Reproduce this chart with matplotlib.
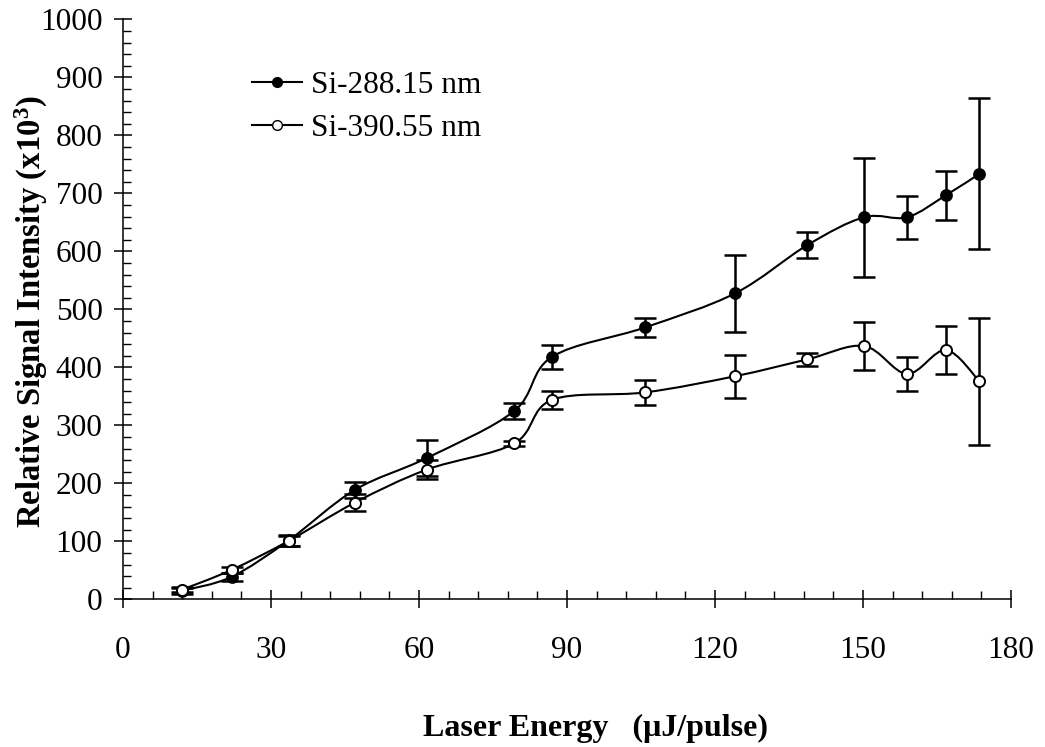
import numpy as np
import matplotlib
matplotlib.use("Agg")
import matplotlib.pyplot as plt
from matplotlib.path import Path
from matplotlib.patches import PathPatch
from matplotlib.lines import Line2D
from matplotlib.ticker import MultipleLocator

plt.rcParams['font.family'] = ['Liberation Serif', 'DejaVu Serif']
plt.rcParams['mathtext.fontset'] = 'custom'
plt.rcParams['mathtext.rm'] = 'Liberation Serif'
plt.rcParams['mathtext.bf'] = 'Liberation Serif:bold'
plt.rcParams['mathtext.default'] = 'bf'

# data
energy = [12, 22, 33.6, 47, 61.6, 79.3, 86.9, 105.8, 124.1, 138.7, 150.2, 158.9, 166.8, 173.6]
si288 = [15, 39, 102, 189, 244, 325, 418, 469, 528, 611, 659, 659, 697, 734]
si288_err = [5, 7, 10, 14, 31, 13, 20, 16, 66, 23, 103, 37, 42, 130]
si390 = [17, 51, 101, 167, 224, 269, 344, 357, 385, 414, 437, 389, 430, 376]
si390_err = [4, 5, 8, 14, 16, 4, 15, 22, 37, 11, 42, 29, 42, 110]
labels = ['Si-288.15 nm', 'Si-390.55 nm']


def smooth_path(x, y):
    # Catmull-Rom style bezier through the points (like a spreadsheet "smoothed line")
    pts = np.column_stack([x, y]).astype(float)
    n = len(pts)
    verts = [pts[0]]
    codes = [Path.MOVETO]
    for i in range(n - 1):
        p0 = pts[i - 1] if i > 0 else pts[i]
        p1 = pts[i]
        p2 = pts[i + 1]
        p3 = pts[i + 2] if i + 2 < n else pts[i + 1]
        verts += [p1 + (p2 - p0) / 6, p2 - (p3 - p1) / 6, p2]
        codes += [Path.CURVE4] * 3
    return Path(verts, codes)


fig = plt.figure(figsize=(10.45, 7.47), dpi=100)
ax = fig.add_axes([0.1177, 0.1975, 0.8498, 0.7764])

fs = 22.5
lw = 1.5

for y in (si288, si390):
    ax.add_patch(PathPatch(smooth_path(energy, y), fill=False, lw=lw,
                           edgecolor='black', zorder=2))

ax.errorbar(energy, si288, yerr=si288_err, fmt='none', ecolor='black',
            elinewidth=1.8, capsize=8, capthick=1.8, zorder=3)
ax.errorbar(energy, si390, yerr=si390_err, fmt='none', ecolor='black',
            elinewidth=1.8, capsize=8, capthick=1.8, zorder=3)
ax.plot(energy, si288, 'o', ms=8, mfc='black', mec='black', mew=1.2, zorder=4)
ax.plot(energy, si390, 'o', ms=8, mfc='white', mec='black', mew=1.4, zorder=5)

ax.set_xlim(0, 180)
ax.set_ylim(0, 1000)
ax.xaxis.set_major_locator(MultipleLocator(30))
ax.xaxis.set_minor_locator(MultipleLocator(6))
ax.yaxis.set_major_locator(MultipleLocator(100))
ax.yaxis.set_minor_locator(MultipleLocator(20))

for s in ('top', 'right'):
    ax.spines[s].set_visible(False)
for s in ('left', 'bottom'):
    ax.spines[s].set_linewidth(1.1)

ax.tick_params(which='major', direction='inout', length=13.5, width=1.1,
               labelsize=fs)
ax.tick_params(which='minor', direction='in', length=5.5, width=1.0)
ax.tick_params(axis='x', which='major', pad=19.5)
ax.tick_params(axis='y', which='major', pad=8)

ax.set_xlabel('Laser Energy   (\u03bcJ/pulse)', fontsize=23, fontweight='bold')
ax.xaxis.set_label_coords((595 - 123) / 888, -(714 - 599.5) / 580)
ax.set_ylabel('Relative Signal Intensity (x10$^{3}$)', fontsize=23.5,
              fontweight='bold')
ax.yaxis.set_label_coords((50 - 123) / 888, (599.5 - 312) / 580)

handles = [
    Line2D([], [], color='black', lw=lw, marker='o', ms=7, mfc='black', mec='black'),
    Line2D([], [], color='black', lw=lw, marker='o', ms=7, mfc='white', mec='black'),
]
ax.legend(handles, labels, loc='upper left', bbox_to_anchor=(252 / 1045, 1 - 71 / 747),
          bbox_transform=fig.transFigure, frameon=False, fontsize=fs,
          handlelength=1.6, handletextpad=0.3, labelspacing=0.45,
          borderpad=0, borderaxespad=0)

fig.savefig('out.png', dpi=100)
